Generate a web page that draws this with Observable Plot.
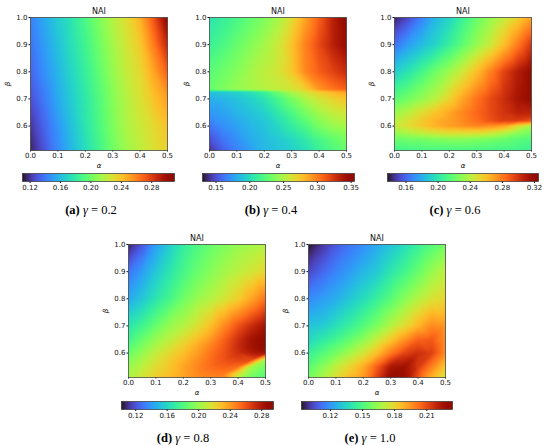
<!DOCTYPE html>
<html><head><meta charset="utf-8">
<script src="https://cdn.jsdelivr.net/npm/d3@7"></script>
<script src="https://cdn.jsdelivr.net/npm/@observablehq/plot@0.6"></script>
<style>
body{margin:0;background:#fff;}
#fig{position:relative;width:550px;height:446px;overflow:hidden;background:#fff;}
#fig .abs{position:absolute;}
.cap{font-family:"Liberation Serif","DejaVu Serif",serif;font-size:12.5px;color:#000;white-space:nowrap;text-align:center;width:120px;line-height:14px;}
</style></head><body><div id="fig"></div>
<script>
// ---- data ----
const alphas = [0,0.05,0.1,0.15,0.2,0.25,0.3,0.35,0.4,0.45,0.5];
const xTicks = [0,0.1,0.2,0.3,0.4,0.5];
const yTicks = [0.6,0.7,0.8,0.9,1.0];

const betaA = [0.5,0.6,0.7,0.8,0.9,1.0];
const naiA = [
 [0.114,0.128,0.144,0.158,0.172,0.186,0.200,0.212,0.220,0.228,0.234],
 [0.120,0.134,0.148,0.162,0.176,0.190,0.204,0.216,0.224,0.232,0.240],
 [0.128,0.140,0.154,0.166,0.178,0.192,0.206,0.218,0.228,0.240,0.252],
 [0.134,0.146,0.158,0.170,0.182,0.196,0.210,0.222,0.232,0.250,0.270],
 [0.138,0.150,0.162,0.174,0.186,0.200,0.214,0.226,0.238,0.262,0.288],
 [0.142,0.154,0.166,0.176,0.190,0.204,0.218,0.230,0.246,0.274,0.306]
];

const betaB = [0.5,0.55,0.6,0.65,0.7,0.725,0.735,0.8,0.9,1.0];
const naiB = [
 [0.137,0.153,0.164,0.175,0.184,0.189,0.193,0.200,0.211,0.220,0.227],
 [0.150,0.162,0.171,0.180,0.186,0.191,0.198,0.207,0.218,0.227,0.234],
 [0.162,0.171,0.177,0.184,0.189,0.198,0.209,0.220,0.234,0.243,0.247],
 [0.173,0.177,0.184,0.189,0.195,0.207,0.220,0.234,0.247,0.256,0.261],
 [0.182,0.184,0.189,0.195,0.204,0.218,0.234,0.249,0.261,0.270,0.276],
 [0.189,0.191,0.195,0.202,0.213,0.231,0.249,0.261,0.272,0.281,0.288],
 [0.229,0.236,0.243,0.247,0.252,0.256,0.261,0.272,0.292,0.303,0.310],
 [0.225,0.231,0.238,0.247,0.254,0.261,0.274,0.297,0.310,0.319,0.328],
 [0.213,0.220,0.229,0.238,0.247,0.258,0.276,0.299,0.317,0.333,0.346],
 [0.204,0.211,0.218,0.227,0.236,0.247,0.265,0.288,0.310,0.333,0.351]
];

const betaC = [0.5,0.55,0.575,0.6,0.62,0.65,0.7,0.8,0.9,1.0];
const naiC = [
 [0.207,0.207,0.208,0.208,0.208,0.208,0.208,0.208,0.207,0.207,0.205],
 [0.220,0.222,0.223,0.225,0.227,0.227,0.225,0.223,0.220,0.216,0.214],
 [0.231,0.237,0.242,0.246,0.250,0.250,0.250,0.246,0.239,0.229,0.223],
 [0.242,0.250,0.257,0.265,0.270,0.274,0.276,0.274,0.269,0.250,0.235],
 [0.239,0.248,0.257,0.265,0.270,0.276,0.283,0.291,0.297,0.297,0.291],
 [0.231,0.240,0.250,0.259,0.268,0.277,0.285,0.293,0.300,0.306,0.306],
 [0.216,0.223,0.231,0.240,0.254,0.269,0.282,0.293,0.302,0.312,0.319],
 [0.190,0.199,0.210,0.222,0.233,0.246,0.261,0.278,0.295,0.308,0.319],
 [0.163,0.175,0.184,0.193,0.205,0.218,0.231,0.244,0.261,0.280,0.299],
 [0.141,0.152,0.167,0.182,0.193,0.207,0.220,0.231,0.242,0.255,0.269]
];

const betaD = [0.5,0.525,0.55,0.575,0.6,0.625,0.65,0.7,0.8,0.9,1.0];
const naiD = [
 [0.206,0.214,0.224,0.231,0.237,0.243,0.245,0.241,0.199,0.187,0.179],
 [0.202,0.212,0.222,0.229,0.237,0.245,0.249,0.249,0.218,0.193,0.185],
 [0.199,0.208,0.218,0.227,0.237,0.245,0.253,0.256,0.253,0.202,0.191],
 [0.193,0.204,0.214,0.224,0.233,0.243,0.253,0.260,0.264,0.262,0.202],
 [0.187,0.199,0.210,0.220,0.229,0.239,0.251,0.260,0.270,0.278,0.281],
 [0.181,0.193,0.204,0.214,0.224,0.235,0.247,0.258,0.272,0.283,0.293],
 [0.175,0.187,0.199,0.208,0.218,0.229,0.241,0.256,0.270,0.283,0.291],
 [0.166,0.175,0.187,0.199,0.206,0.216,0.229,0.245,0.260,0.272,0.283],
 [0.144,0.154,0.166,0.177,0.189,0.199,0.206,0.214,0.224,0.237,0.251],
 [0.129,0.141,0.154,0.166,0.177,0.187,0.195,0.202,0.208,0.214,0.220],
 [0.106,0.121,0.141,0.156,0.170,0.179,0.187,0.193,0.199,0.202,0.206]
];

const betaE = [0.5,0.55,0.6,0.65,0.7,0.8,0.9,1.0];
const naiE = [
 [0.159,0.168,0.178,0.189,0.195,0.213,0.231,0.227,0.206,0.186,0.172],
 [0.152,0.161,0.171,0.180,0.190,0.206,0.223,0.226,0.214,0.199,0.184],
 [0.144,0.151,0.158,0.166,0.175,0.186,0.200,0.211,0.216,0.212,0.197],
 [0.135,0.141,0.147,0.154,0.162,0.172,0.183,0.195,0.205,0.207,0.196],
 [0.130,0.132,0.138,0.144,0.151,0.159,0.169,0.178,0.188,0.197,0.195],
 [0.117,0.121,0.125,0.131,0.137,0.144,0.152,0.161,0.169,0.176,0.180],
 [0.104,0.110,0.116,0.121,0.127,0.132,0.140,0.147,0.155,0.164,0.171],
 [0.093,0.100,0.107,0.113,0.118,0.124,0.130,0.137,0.144,0.151,0.158]
];

const letters = ["a","b","c","d","e"];
const gammas = ["0.2","0.4","0.6","0.8","1.0"];
const cbDomains = [[0.110,0.310],[0.130,0.355],[0.137,0.325],[0.102,0.295],[0.093,0.234]];
const cbTicks = [
 [0.12,0.16,0.20,0.24,0.28],
 [0.15,0.20,0.25,0.30,0.35],
 [0.16,0.20,0.24,0.28,0.32],
 [0.12,0.16,0.20,0.24,0.28],
 [0.12,0.15,0.18,0.21]
];
const panelData = [[betaA,naiA],[betaB,naiB],[betaC,naiC],[betaD,naiD],[betaE,naiE]];

// ---- layout ----
const FW = 137, FH = 133, ML = 32, MR = 10, MT = 18, MB = 26;
const frames = [[30,17],[209,17],[394,17],[128,244],[308,244]];
const cbars = [[22,173,152],[202,173,152],[387,173,151],[121,401,152],[301,401,151]];
const caps = [[91,210],[271,210],[455,210],[183,438],[370,438]];
const CH = 8, CP = 12;
const fig = document.getElementById("fig");
const baseStyle = {fontFamily:"'DejaVu Sans', sans-serif", fontSize:"7px", color:"#111", background:"transparent", overflow:"visible"};

function place(el, left, top) {
  el.classList.add("abs");
  el.style.left = left + "px";
  el.style.top = top + "px";
  fig.appendChild(el);
}

function heat(betas, rows, dom) {
  const data = [];
  betas.forEach((b, i) => alphas.forEach((a, j) => data.push({alpha: a, beta: b, nai: rows[i][j]})));
  return Plot.plot({
    width: ML + FW + MR, height: MT + FH + MB,
    marginLeft: ML, marginRight: MR, marginTop: MT, marginBottom: MB,
    style: baseStyle,
    x: {domain: [0, 0.5], ticks: xTicks, tickFormat: d3.format(".1f"), tickSize: 1.5, tickPadding: 1, label: null},
    y: {domain: [0.51, 1.0], ticks: yTicks, tickFormat: d3.format(".1f"), tickSize: 1.5, tickPadding: 1.5, label: null},
    color: {type: "linear", scheme: "turbo", domain: dom, clamp: true},
    marks: [
      Plot.raster(data, {x: "alpha", y: "beta", fill: "nai", interpolate: "barycentric"}),
      Plot.frame({stroke: "#333", strokeWidth: 0.7}),
      Plot.text(["NAI"], {text: d => d, frameAnchor: "top", lineAnchor: "middle", dy: -6, fontSize: 8}),
      Plot.text(["α"], {text: d => d, frameAnchor: "bottom", lineAnchor: "middle", dy: 15, fontStyle: "italic"}),
      Plot.text(["β"], {text: d => d, frameAnchor: "left", textAnchor: "middle", lineAnchor: "middle", dx: -23, rotate: -90, fontStyle: "italic"})
    ]
  });
}

function cbar(dom, ticks, w) {
  return Plot.plot({
    width: w + 2 * CP, height: 1 + CH + 14,
    marginLeft: CP, marginRight: CP, marginTop: 1, marginBottom: 14,
    style: baseStyle,
    x: {domain: dom, ticks: ticks, tickFormat: d3.format(".2f"), tickSize: 2, tickPadding: 2, label: null},
    y: {domain: [0, 1], axis: null},
    color: {type: "linear", scheme: "turbo", domain: dom, clamp: true},
    marks: [
      Plot.raster({fill: (x, y) => x, x1: dom[0], x2: dom[1], y1: 0, y2: 1}),
      Plot.frame({stroke: "#333", strokeWidth: 0.7})
    ]
  });
}

panelData.forEach(([betas, rows], k) => {
  const dom = cbDomains[k];
  const [fx, fy] = frames[k];
  place(heat(betas, rows, dom), fx - ML, fy - MT);
  const [cx, cy, cw] = cbars[k];
  place(cbar(dom, cbTicks[k], cw), cx - CP, cy - 1);
  const cap = document.createElement("div");
  cap.className = "cap";
  cap.innerHTML = "<b>(" + letters[k] + ")</b> <i>γ</i> = " + gammas[k];
  place(cap, caps[k][0] - 60, caps[k][1] - 7);
});
</script>
</body></html>
